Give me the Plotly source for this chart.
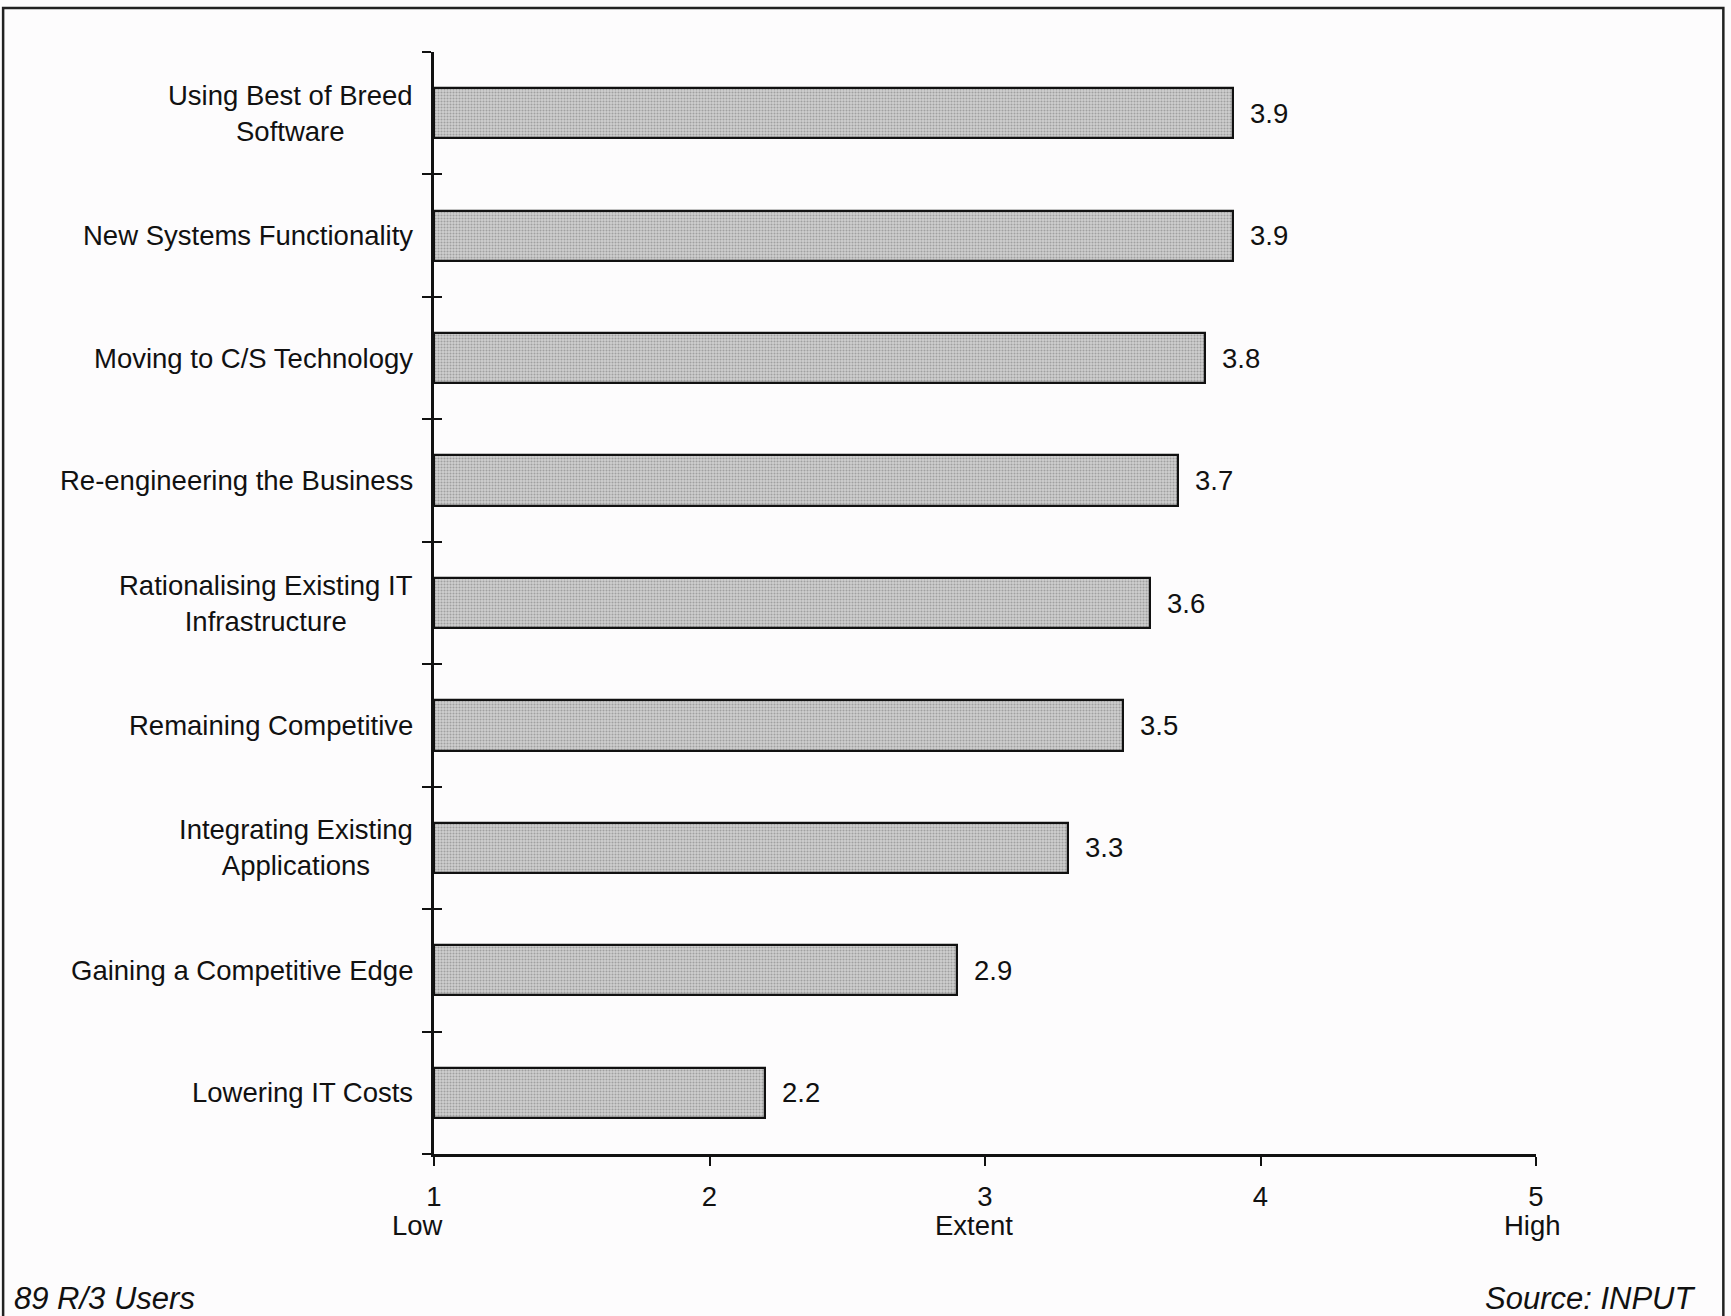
import plotly.graph_objects as go

categories = [
    "Using Best of Breed<br>Software",
    "New Systems Functionality",
    "Moving to C/S Technology",
    "Re-engineering the Business",
    "Rationalising Existing IT<br>Infrastructure",
    "Remaining Competitive",
    "Integrating Existing<br>Applications",
    "Gaining a Competitive Edge",
    "Lowering IT Costs",
]
values = [3.9, 3.9, 3.8, 3.7, 3.6, 3.5, 3.3, 2.9, 2.2]
x_ticks = [1, 2, 3, 4, 5]
x_tick_words = {1: "Low", 3: "Extent", 5: "High"}
footer_left = "89 R/3 Users"
footer_right = "Source: INPUT"

FONT = "Liberation Sans, Arial, Helvetica, sans-serif"
FS = 27.5
n = len(categories)
ypos = list(range(n))
boundaries = [i - 0.5 for i in range(n + 1)]

fig = go.Figure()
fig.add_trace(go.Bar(
    x=[v - 1 for v in values], base=1, y=ypos, orientation="h",
    width=0.41,
    marker=dict(color="#cccccc",
                line=dict(color="#111111", width=2.2),
                pattern=dict(shape=".", fgcolor="#707070", bgcolor="#d0d0d0",
                             size=3, solidity=0.4)),
    hoverinfo="skip", showlegend=False,
))
# invisible trace for overlay axis (inner tick marks)
fig.add_trace(go.Scatter(x=[1], y=[0], yaxis="y2", mode="markers",
                         marker=dict(opacity=0), showlegend=False, hoverinfo="skip"))

annotations = []
for i, (c, v) in enumerate(zip(categories, values)):
    annotations.append(dict(x=1, y=i, xref="x", yref="y", text=c, showarrow=False,
                            xanchor="right", yanchor="middle", align="center",
                            xshift=-19, font=dict(family=FONT, size=FS, color="#111")))
    annotations.append(dict(x=v, y=i, xref="x", yref="y", text=f"{v:.1f}", showarrow=False,
                            xanchor="left", yanchor="middle", xshift=15,
                            font=dict(family=FONT, size=FS, color="#111")))
shifts = {1: -17, 3: -11, 5: -4}
for k, w in x_tick_words.items():
    annotations.append(dict(x=k, y=0, xref="x", yref="paper", text=w, showarrow=False,
                            xanchor="center", yanchor="middle", yshift=-71, xshift=shifts[k],
                            font=dict(family=FONT, size=FS, color="#111")))
annotations.append(dict(x=-0.383, y=-0.1307, xref="paper", yref="paper", text=f"<i>{footer_left}</i>",
                        showarrow=False, xanchor="left", yanchor="middle",
                        font=dict(family=FONT, size=31, color="#111")))
annotations.append(dict(x=1.147, y=-0.1307, xref="paper", yref="paper", text=f"<i>{footer_right}</i>",
                        showarrow=False, xanchor="right", yanchor="middle",
                        font=dict(family=FONT, size=31, color="#111")))

fig.update_layout(
    width=1731, height=1316,
    margin=dict(l=434, r=195, t=52, b=162),
    paper_bgcolor="#fdfcfd", plot_bgcolor="rgba(0,0,0,0)",
    font=dict(family=FONT, size=FS, color="#111"),
    xaxis=dict(range=[1, 5], tickvals=x_ticks, ticks="outside", ticklen=9, tickwidth=2,
               tickcolor="#111", showline=True, linecolor="#111", linewidth=2.5,
               showgrid=False, zeroline=False, ticklabelstandoff=7,
               tickfont=dict(family=FONT, size=FS, color="#111")),
    yaxis=dict(range=[n - 0.5, -0.5], tickvals=boundaries, ticks="outside", ticklen=9,
               tickwidth=2, tickcolor="#111", showline=True, linecolor="#111", linewidth=2.5,
               showgrid=False, zeroline=False, showticklabels=False),
    yaxis2=dict(range=[n - 0.5, -0.5], tickvals=boundaries, ticks="inside", ticklen=8,
                tickwidth=2, tickcolor="#111", overlaying="y", side="left", showline=False,
                showgrid=False, zeroline=False, showticklabels=False),
    annotations=annotations,
    shapes=[dict(type="rect", xref="paper", yref="paper", x0=-0.391, x1=1.170,
                 y0=-0.2, y1=1.040, line=dict(color="#222", width=2.5), fillcolor="rgba(0,0,0,0)",
                 layer="below")],
    bargap=0,
)
fig.write_html("out.html", config={"displayModeBar": False},
               post_script="document.body.style.margin='0';document.body.style.overflow='hidden';")
